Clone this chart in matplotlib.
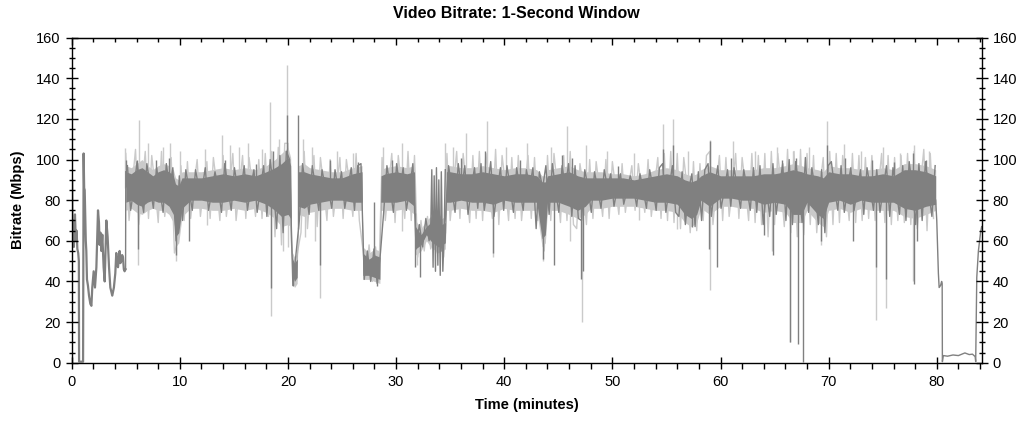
import numpy as np
import matplotlib
matplotlib.use("Agg")
import matplotlib.pyplot as plt
from matplotlib.ticker import MultipleLocator

plt.rcParams['font.family'] = ['Liberation Sans', 'DejaVu Sans']

# ---------------- data ----------------
# opening section, 0-5 min (single dark trace)
t_intro = [0.0, 0.03, 0.06, 0.12, 0.2, 0.3, 0.38, 0.45, 0.52, 0.6, 0.66, 0.68, 1.05, 1.1, 1.15, 1.2,
           1.3, 1.35, 1.41, 1.5, 1.6, 1.72, 1.82, 1.9, 2.03, 2.15, 2.28, 2.43, 2.52, 2.58, 2.66, 2.74,
           2.83, 2.95, 3.05, 3.2, 3.32, 3.45, 3.57, 3.75, 3.9, 4.03, 4.12, 4.2, 4.28, 4.43, 4.5, 4.58,
           4.66, 4.74, 4.82, 4.89, 4.98]
v_intro = [0.5, 90, 62, 70, 57, 73, 60, 65, 56, 54, 50, 0.5, 0.5, 103, 86, 85,
           60, 55, 41, 38, 33, 29, 28, 37, 45, 37, 47, 75, 69, 58, 64, 55,
           63, 47, 40, 70, 62, 47, 37, 33, 37, 44, 54, 50, 47, 55, 49, 50,
           53, 52, 46, 45, 46]

# main section: solid core envelopes, 5-80 min
t_env = [5.0, 5.5, 6.0, 6.5, 7.0, 7.5, 8.0, 8.5, 9.0, 9.4, 9.6, 9.9, 10.2, 10.6, 11.0, 12.0, 13.0,
         14.0, 15.0, 16.0, 17.0, 18.0, 18.8, 19.4, 20.0, 20.25, 20.35, 20.6, 20.85, 20.95, 21.5,
         22.0, 23.0, 24.0, 25.0, 26.0, 26.85, 26.92, 27.5, 28.0, 28.5, 28.6, 29.0, 30.0, 31.0, 31.7,
         31.8, 32.3, 32.8, 33.2, 33.9, 34.55, 34.65, 35.0, 36.0, 37.0, 38.0, 39.0, 40.0, 41.0, 42.0,
         43.0, 43.5, 43.8, 44.0, 45.0, 46.0, 46.8, 47.5, 48.0, 49.0, 50.0, 51.0, 52.0, 53.0, 54.0,
         55.0, 56.0, 56.7, 57.3, 57.8, 58.2, 59.0, 60.0, 61.0, 62.0, 63.0, 64.0, 65.0, 66.0, 66.7,
         67.5, 68.0, 69.0, 69.5, 70.0, 71.0, 72.0, 73.0, 74.0, 75.0, 76.0, 77.0, 78.0, 79.0, 79.9]
dark_lo = [79, 80, 78, 77, 79, 80, 79, 79, 77, 73, 62, 64, 76, 78, 80, 80, 79,
           79, 80, 79, 80, 78, 75, 72, 73, 71, 44, 40, 42, 77, 76,
           78, 79, 80, 80, 79, 79, 43, 43, 42, 41, 79, 79, 79, 80, 77,
           56, 58, 63, 60, 57, 59, 79, 79, 80, 79, 79, 78, 80, 79, 79,
           79, 61, 63, 79, 79, 77, 75, 77, 80, 80, 81, 81, 81, 80, 79,
           79, 78, 73, 71, 73, 80, 77, 81, 81, 80, 80, 78, 79, 78, 73,
           73, 79, 73, 71, 79, 80, 78, 80, 79, 79, 79, 76, 75, 77, 78]
dark_hi = [94, 93, 95, 96, 94, 92, 94, 95, 94, 92, 88, 87, 91, 91, 91, 91, 92,
           93, 92, 93, 92, 94, 96, 98, 101, 97, 52, 49, 51, 94, 94,
           93, 92, 91, 91, 93, 94, 54, 51, 53, 52, 92, 93, 94, 93, 94,
           67, 63, 67, 69, 67, 69, 94, 94, 93, 93, 94, 93, 92, 93, 93,
           92, 89, 89, 92, 93, 94, 92, 91, 91, 91, 91, 91, 90, 91, 92,
           93, 92, 90, 89, 90, 92, 94, 92, 92, 92, 92, 93, 93, 94, 95,
           94, 93, 92, 91, 94, 93, 93, 92, 92, 93, 92, 95, 95, 94, 92]
light_lo = [75, 76, 74, 73, 75, 76, 75, 75, 73, 69, 57, 59, 72, 74, 76, 76, 75,
            75, 76, 75, 76, 74, 71, 67, 68, 67, 41, 37, 39, 73, 72,
            74, 75, 76, 76, 75, 75, 41, 41, 40, 39, 75, 75, 75, 76, 73,
            53, 55, 60, 57, 54, 56, 75, 75, 76, 75, 75, 74, 76, 75, 75,
            75, 57, 59, 75, 75, 73, 71, 73, 76, 76, 77, 77, 77, 76, 75,
            75, 74, 69, 67, 69, 76, 73, 77, 77, 76, 76, 74, 75, 74, 69,
            69, 75, 69, 67, 75, 76, 74, 76, 75, 75, 75, 72, 71, 73, 75]
light_hi = [97, 96, 98, 100, 97, 95, 97, 98, 97, 95, 91, 90, 94, 94, 94, 94, 95,
            96, 95, 96, 95, 97, 100, 103, 106, 101, 55, 52, 54, 97, 98,
            96, 95, 94, 94, 96, 97, 57, 54, 56, 55, 95, 96, 97, 96, 97,
            70, 66, 70, 72, 70, 72, 97, 97, 96, 96, 97, 96, 95, 96, 96,
            95, 92, 92, 95, 96, 97, 95, 94, 94, 94, 93, 93, 92, 93, 95,
            96, 95, 93, 92, 93, 95, 97, 95, 95, 95, 95, 96, 96, 97, 98,
            97, 96, 95, 94, 97, 96, 96, 95, 95, 96, 95, 98, 98, 97, 95]

# main section: fast up/down swings of the 1-s trace, sampled every 0.3 min
dark_swing_start, light_swing_start, swing_step = 5.15, 5.0, 0.3
dark_swing = [97, 75, 86, 99, 84, 74, 98, 87, 76, 96,
              85, 74, 98, 86, 96, 60, 92, 70, 95, 85,
              75, 95, 86, 85, 96, 75, 84, 94, 86, 74,
              98, 86, 75, 96, 85, 84, 97, 75, 86, 95,
              74, 86, 97, 72, 100, 86, 66, 102, 64, 104,
              100, 38, 54, 70, 98, 85, 73, 97, 86, 75,
              95, 86, 85, 76, 95, 84, 94, 76, 86, 96,
              75, 97, 98, 41, 55, 40, 56, 39, 54, 74,
              97, 86, 74, 98, 85, 96, 75, 86, 98, 56,
              68, 57, 71, 60, 72, 58, 70, 55, 71, 97,
              86, 74, 98, 85, 97, 73, 86, 96, 76, 98,
              75, 86, 99, 72, 85, 96, 75, 97, 86, 74,
              96, 85, 75, 95, 86, 96, 66, 94, 86, 97,
              73, 98, 85, 74, 97, 86, 98, 72, 97, 71,
              70, 95, 86, 74, 94, 85, 76, 95, 86, 93,
              77, 86, 93, 78, 85, 92, 86, 77, 93, 85,
              76, 95, 86, 75, 96, 98, 74, 86, 97, 74,
              72, 94, 68, 85, 93, 67, 94, 70, 95, 98,
              72, 86, 97, 76, 85, 95, 77, 96, 86, 76,
              95, 86, 75, 96, 74, 97, 68, 86, 72, 98,
              73, 86, 98, 70, 100, 68, 99, 86, 69, 101,
              74, 96, 85, 68, 95, 64, 97, 99, 86, 75,
              97, 74, 86, 96, 75, 85, 95, 73, 96, 86,
              75, 95, 74, 86, 97, 72, 96, 85, 73, 97,
              70, 99, 86, 68, 98, 70, 99, 85, 72, 97]
light_swing = [103, 70, 88, 105, 68, 86, 104, 71, 102, 87,
               69, 104, 72, 88, 101, 54, 60, 97, 70, 99,
               71, 87, 100, 72, 86, 99, 71, 101, 88, 70,
               102, 72, 87, 103, 70, 86, 102, 71, 101, 87,
               72, 100, 71, 103, 72, 104, 62, 106, 58, 108,
               108, 60, 40, 55, 64, 104, 66, 87, 102, 67,
               101, 87, 70, 100, 72, 86, 101, 71, 100, 88,
               72, 103, 70, 57, 42, 58, 40, 57, 41, 101,
               70, 87, 103, 69, 102, 86, 71, 104, 70, 102,
               52, 70, 55, 72, 56, 73, 54, 72, 52, 103,
               70, 87, 104, 71, 103, 86, 69, 102, 71, 104,
               70, 103, 87, 71, 105, 68, 102, 88, 70, 101,
               71, 102, 70, 87, 102, 71, 101, 70, 88, 55,
               102, 70, 103, 87, 69, 102, 70, 104, 68, 66,
               98, 87, 68, 100, 71, 99, 86, 72, 100, 71,
               99, 86, 73, 98, 74, 87, 97, 75, 98, 86,
               74, 100, 72, 87, 101, 71, 103, 70, 104, 69,
               103, 66, 101, 87, 64, 99, 65, 98, 70, 102,
               104, 68, 87, 102, 70, 101, 72, 86, 103, 71,
               101, 87, 70, 103, 69, 102, 68, 103, 62, 104,
               68, 103, 87, 67, 105, 64, 104, 62, 105, 63,
               103, 68, 102, 64, 87, 101, 62, 104, 68, 103,
               69, 102, 87, 70, 103, 69, 102, 70, 101, 71,
               102, 70, 86, 103, 69, 102, 68, 101, 70, 102,
               69, 103, 68, 104, 66, 88, 105, 65, 103, 71]

# fast swings around 33-34.6 min
t_osc = [33.2, 33.3, 33.42, 33.52, 33.64, 33.73, 33.86, 33.95, 34.08, 34.18, 34.32, 34.42, 34.55]
v_osc = [66, 95, 47, 92, 45, 96, 48, 90, 43, 94, 45, 60, 95]

# closing section (single dark trace)
t_tail = [79.9, 80.0, 80.15, 80.22, 80.35, 80.45, 80.5, 80.52, 80.6, 81.0, 81.5, 82.0, 82.6,
          83.0, 83.3, 83.55, 83.6, 83.7, 83.85, 84.05, 84.15]
v_tail = [80, 70, 44, 37, 38, 40, 39, 0.5, 3.5, 3.2, 3.8, 3.5, 4.8,
          4.0, 4.2, 3.0, 0.5, 42, 55, 64, 67]

# isolated spikes
light_up_t = [4.93, 6.25, 7.1, 8.4, 9.1, 10.0, 12.3, 13.9, 14.6, 15.5, 16.3, 17.6, 18.35, 19.2,
              19.9, 21.4, 22.2, 24.5, 26.0, 28.8, 30.5, 34.5, 35.3, 36.5, 38.4, 40.2, 42.1, 44.3,
              45.8, 47.6, 49.5, 52.0, 54.7, 55.65, 57.0, 59.0, 61.2, 63.2, 65.2, 66.7, 68.2,
              69.85, 71.4, 73.0, 75.0, 76.6, 77.85, 79.3]
light_up_v = [105.6, 119.5, 108, 106, 108, 104, 105, 112, 107, 106, 108, 105, 128.5, 110,
              146.6, 110, 106, 104, 103, 106, 108, 108, 106, 113, 119, 106, 108, 106,
              116.5, 107, 104, 103, 117.5, 120, 104, 109.6, 109, 104, 106, 104, 106,
              119, 107.7, 104, 106, 103, 107, 104]
light_dn_t = [6.1, 9.6, 12.5, 18.4, 19.5, 20.0, 21.6, 22.5, 23.0, 30.5, 31.9, 39.0, 43.6, 46.1,
              47.2, 52.5, 56.0, 59.0, 64.8, 66.4, 69.3, 74.4, 75.3, 77.8]
light_dn_v = [48, 50, 68, 23, 55, 57, 62, 60, 32, 65, 48, 52, 50, 60,
              20, 70, 66, 36, 55, 10, 58, 21, 27, 40]
dark_up_t = [5.0, 6.0, 7.8, 9.0, 14.2, 17.0, 18.6, 19.9, 20.9, 23.9, 26.5, 27.97, 29.6, 36.0,
             38.2, 41.5, 45.3, 46.3, 50.5, 54.7, 55.6, 59.0, 61.0, 65.7, 67.0, 69.85, 71.5,
             74.0, 76.0, 77.8, 79.0]
dark_up_v = [100, 100, 100, 101, 100, 98, 104, 122, 122, 100, 99, 79, 100, 101,
             104, 100, 102, 101, 97, 105, 107, 109, 101, 100, 101, 107, 101,
             100, 99, 103, 100]
dark_dn_t = [6.15, 9.65, 10.8, 18.45, 20.5, 22.97, 28.2, 31.75, 32.25, 39.0, 43.6, 44.6, 47.1,
             47.25, 57.4, 58.9, 59.7, 64.0, 64.85, 66.4, 67.2, 67.6, 69.3, 72.25, 74.4, 75.3,
             77.85, 78.2]
dark_dn_v = [56, 53, 60, 37, 38, 48, 38, 47, 42, 54, 51, 48, 41,
             45, 67, 56, 47, 63, 53, 10, 9, 0.5, 60, 60, 47, 41,
             38.5, 60]

x_ticks = [0, 10, 20, 30, 40, 50, 60, 70, 80]
y_ticks = [0, 20, 40, 60, 80, 100, 120, 140, 160]

# ---------------- drawing ----------------
DARK = '#808080'
LIGHT = '#cacaca'

fig = plt.figure(figsize=(10.32, 4.21), dpi=100)
ax = fig.add_axes([0.0695, 0.1385, 0.8817, 0.772])

t_env_a = np.array(t_env)
mid_light = (np.array(light_lo) + np.array(light_hi)) / 2
mid_dark = (np.array(dark_lo) + np.array(dark_hi)) / 2
t_dswing = dark_swing_start + swing_step * np.arange(len(dark_swing))
t_lswing = light_swing_start + swing_step * np.arange(len(light_swing))

# light layer (drawn first, behind)
ax.plot(t_lswing, light_swing, color=LIGHT, lw=1.0, zorder=1.0)
ax.fill_between(t_env, light_lo, light_hi, color=LIGHT, lw=0, zorder=1.1)
ax.vlines(light_up_t, np.interp(light_up_t, t_env_a, mid_light), light_up_v,
          color=LIGHT, lw=1.0, zorder=1.2)
ax.vlines(light_dn_t, light_dn_v, np.interp(light_dn_t, t_env_a, mid_light),
          color=LIGHT, lw=1.0, zorder=1.2)

# dark layer (front)
ax.plot(t_dswing, dark_swing, color=DARK, lw=1.0, zorder=1.3)
ax.fill_between(t_env, dark_lo, dark_hi, color=DARK, lw=0, zorder=1.4)
ax.vlines(dark_up_t, np.interp(dark_up_t, t_env_a, mid_dark), dark_up_v,
          color=DARK, lw=1.0, zorder=1.5)
ax.vlines(dark_dn_t, dark_dn_v, np.interp(dark_dn_t, t_env_a, mid_dark),
          color=DARK, lw=1.0, zorder=1.5)
ax.plot(t_osc, v_osc, color=DARK, lw=1.0, zorder=1.5)
ax.plot(t_intro, v_intro, color=DARK, lw=1.6, zorder=1.5)
ax.plot([t_intro[-1], t_env[0]], [v_intro[-1], dark_hi[0]], color=DARK, lw=1.0, zorder=1.5)
ax.plot(t_tail, v_tail, color=DARK, lw=1.0, zorder=1.5)

ax.set_xlim(0, 84.15)
ax.set_ylim(0, 160)
ax.set_xticks(x_ticks)
ax.set_yticks(y_ticks)
ax.xaxis.set_minor_locator(MultipleLocator(2))
ax.yaxis.set_minor_locator(MultipleLocator(5))
for s in ax.spines.values():
    s.set_linewidth(1.0)

ax.tick_params(axis='x', which='major', direction='inout', length=8, width=1.0,
               labelsize=10.5, pad=5, top=False)
ax.tick_params(axis='x', which='minor', direction='out', length=4, width=1.0, top=False)
ax.tick_params(axis='y', which='major', direction='inout', length=8, width=1.0,
               labelsize=10.5, left=True, right=True, labelright=True, pad=4)
ax.tick_params(axis='y', which='minor', direction='inout', length=5, width=1.0,
               left=True, right=True)

top = ax.secondary_xaxis('top')
top.set_xticks(x_ticks)
top.xaxis.set_minor_locator(MultipleLocator(2))
top.tick_params(axis='x', which='major', direction='in', length=5, width=1.0, labeltop=False)
top.tick_params(axis='x', which='minor', direction='in', length=3, width=1.0)

ax.set_xlabel('Time (minutes)', fontsize=10.5, fontweight='bold', labelpad=6)
ax.set_ylabel('Bitrate (Mbps)', fontsize=10.5, fontweight='bold', labelpad=8)
fig.text(0.5, 0.967, 'Video Bitrate: 1-Second Window', ha='center', va='center',
         fontsize=11.5, fontweight='bold')

fig.savefig('out.png', dpi=100)
